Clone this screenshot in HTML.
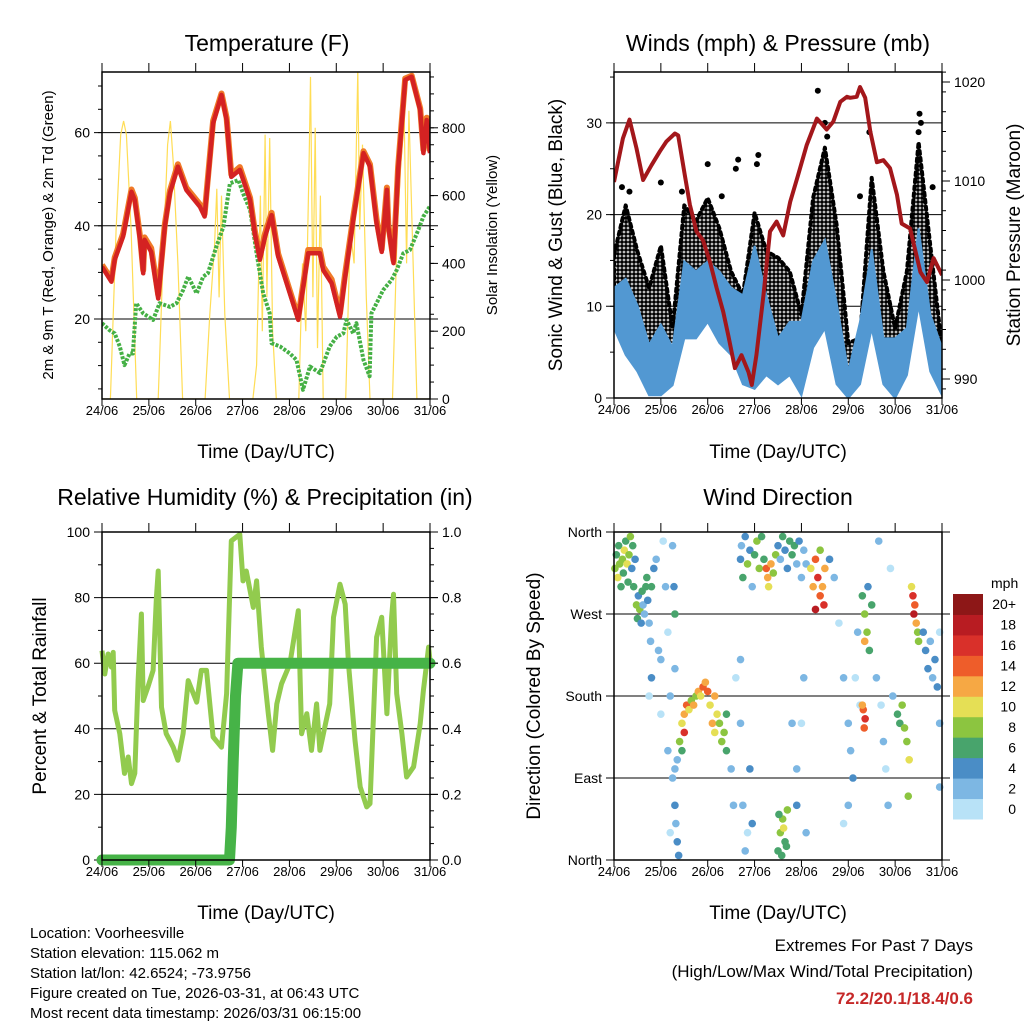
<!DOCTYPE html>
<html><head><meta charset="utf-8"><style>
html,body{margin:0;padding:0;background:#fff;}
svg{display:block;font-family:"Liberation Sans",Arial,sans-serif;}
</style></head><body>
<svg id="chart" width="1024" height="1024" viewBox="0 0 1024 1024" xmlns="http://www.w3.org/2000/svg">
<defs>
<pattern id="gustPat" width="4" height="4" patternUnits="userSpaceOnUse"><circle cx="2" cy="2" r="1.9" fill="#000"/></pattern>
</defs>
<rect width="1024" height="1024" fill="#fff"/>
<g id="g1"></g>
<g id="g2"></g>
<g id="g3"></g>
<g id="g4"></g>
<text x="267" y="51" font-size="23" text-anchor="middle">Temperature (F)</text>
<text x="778" y="51" font-size="23" text-anchor="middle">Winds (mph) &amp; Pressure (mb)</text>
<text x="265" y="505" font-size="23" text-anchor="middle">Relative Humidity (%) &amp; Precipitation (in)</text>
<text x="778" y="505" font-size="23" text-anchor="middle">Wind Direction</text>
<text x="266" y="458" font-size="19" text-anchor="middle">Time (Day/UTC)</text>
<text x="778" y="458" font-size="19" text-anchor="middle">Time (Day/UTC)</text>
<text x="266" y="919" font-size="19" text-anchor="middle">Time (Day/UTC)</text>
<text x="778" y="919" font-size="19" text-anchor="middle">Time (Day/UTC)</text>
<text transform="translate(53,235) rotate(-90)" font-size="15" text-anchor="middle">2m &amp; 9m T (Red, Orange) &amp; 2m Td (Green)</text>
<text transform="translate(497,235) rotate(-90)" font-size="15" text-anchor="middle">Solar Insolation (Yellow)</text>
<text transform="translate(562,235) rotate(-90)" font-size="19" text-anchor="middle">Sonic Wind &amp; Gust (Blue, Black)</text>
<text transform="translate(1020,235) rotate(-90)" font-size="19" text-anchor="middle">Station Pressure (Maroon)</text>
<text transform="translate(46,696) rotate(-90)" font-size="19" text-anchor="middle">Percent &amp; Total Rainfall</text>
<text transform="translate(540,696) rotate(-90)" font-size="19" text-anchor="middle">Direction (Colored By Speed)</text>
<g font-size="15">
<text x="30" y="938">Location: Voorheesville</text>
<text x="30" y="958">Station elevation: 115.062 m</text>
<text x="30" y="978">Station lat/lon: 42.6524; -73.9756</text>
<text x="30" y="998">Figure created on Tue, 2026-03-31, at 06:43 UTC</text>
<text x="30" y="1018">Most recent data timestamp: 2026/03/31 06:15:00</text>
</g>
<text x="973" y="951" font-size="17" text-anchor="end">Extremes For Past 7 Days</text>
<text x="973" y="977" font-size="17" text-anchor="end">(High/Low/Max Wind/Total Precipitation)</text>
<text x="973" y="1004" font-size="17" font-weight="bold" fill="#c62828" text-anchor="end">72.2/20.1/18.4/0.6</text>
</svg>
<script>
// ---------- DATA ----------
const dayLabels = ["24/06","25/06","26/06","27/06","28/06","29/06","30/06","31/06"];
const tempDays = [0,.20,.27,.45,.63,.70,.81,.88,.91,1.05,1.20,1.34,1.45,1.62,1.80,2.09,2.19,2.37,2.55,2.66,2.76,2.94,3.16,3.26,3.37,3.48,3.62,3.76,4.01,4.19,4.40,4.65,4.72,4.90,5.08,5.19,5.36,5.58,5.72,5.86,5.97,6.08,6.11,6.22,6.32,6.47,6.61,6.79,6.86,6.93,7.0];
const temp2m = [31.2,28.0,32.7,37.7,47.3,45.5,37.0,29.8,37.0,34.4,24.4,39.8,47.0,52.7,47.7,44.1,42.0,62.0,68.1,62.7,50.5,52.0,45.5,38.4,32.7,37.7,42.3,33.4,25.5,19.8,34.1,34.1,30.5,27.7,20.5,29.1,41.2,55.6,52.7,40.5,34.4,47.7,39.8,32.0,52.0,71.3,72.0,64.8,55.6,62.7,55.6];
const temp9m = [31.6,28.5,33.2,38.3,47.8,46.0,37.8,30.5,37.5,35.2,25.2,40.3,47.5,53.2,48.2,44.6,42.5,62.5,68.4,63.2,51.0,52.6,46.0,38.9,33.5,38.4,42.8,34.0,26.0,20.3,34.8,34.8,31.2,28.5,21.2,29.8,41.8,56.0,53.2,41.3,35.0,48.2,40.3,32.6,52.6,71.6,72.2,65.2,56.3,63.2,56.0];
const dewDays = [0,.16,.27,.38,.48,.59,.66,.73,.88,1.09,1.23,1.45,1.59,1.73,1.84,2.02,2.16,2.26,2.44,2.59,2.73,2.91,3.01,3.16,3.30,3.44,3.58,3.62,3.80,4.01,4.15,4.29,4.44,4.65,4.86,5.01,5.15,5.22,5.36,5.43,5.58,5.71,5.75,5.86,6.0,6.18,6.29,6.43,6.57,6.75,6.86,7.0];
const dewPoint = [19.1,17.6,16.9,14.1,10.1,12.6,12.6,23.4,21.2,19.8,23.4,22.6,23.4,26.2,29.1,25.5,29.1,29.8,35.5,39.8,49.1,49.8,47.0,43.4,34.1,25.5,21.2,14.8,14.1,12.6,11.2,4.8,9.8,8.4,14.1,16.2,16.9,19.8,16.9,19.1,11.2,7.7,21.2,23.4,26.2,28.4,30.5,34.1,34.8,39.1,42.0,44.2];
const solarDays = [0,.18,.30,.40,.46,.52,.62,.74,1.20,1.30,1.40,1.46,1.52,1.62,1.72,2.20,2.30,2.40,2.45,2.50,2.55,2.62,2.72,3.22,3.30,3.38,3.42,3.48,3.52,3.58,3.64,3.72,4.20,4.28,4.35,4.42,4.45,4.50,4.55,4.60,4.66,4.72,5.20,5.30,5.38,5.46,5.50,5.56,5.64,5.72,6.20,6.30,6.38,6.45,6.50,6.55,6.62,6.72,7.0];
const solarVals = [0,0,500,780,820,780,500,0,0,400,750,820,700,400,0,0,250,450,620,300,600,250,0,0,100,600,200,780,300,770,200,0,0,400,200,700,950,300,800,150,600,0,0,500,400,970,500,750,300,0,0,500,700,830,400,850,500,0,0];
const presDays = [0,.19,.33,.48,.62,.80,.98,1.12,1.30,1.37,1.51,1.62,1.76,1.90,2.05,2.19,2.33,2.44,2.58,2.72,2.87,2.94,3.04,3.19,3.33,3.47,3.61,3.76,3.93,4.11,4.33,4.54,4.68,4.83,4.97,5.04,5.18,5.25,5.36,5.47,5.61,5.75,5.89,6.04,6.14,6.32,6.54,6.68,6.82,7.0];
const pressure = [1009.9,1014.3,1016.2,1013.3,1010.1,1011.6,1013.0,1014.0,1014.8,1014.6,1010.6,1007.6,1004.9,1004.0,1001.8,999.2,996.8,994.4,991.1,992.4,990.7,989.4,992.4,998.5,1004.9,1005.9,1004.5,1007.9,1010.6,1013.6,1016.3,1015.2,1016.0,1018.0,1018.5,1018.4,1018.5,1019.5,1018.4,1015.0,1011.9,1012.1,1011.3,1008.6,1005.7,1005.2,1000.8,999.8,1002.2,1000.5];
const windDays = [0,.25,.5,.75,1,1.25,1.5,1.75,2,2.25,2.5,2.75,3,3.25,3.5,3.75,4,4.25,4.5,4.75,5,5.25,5.5,5.75,6,6.25,6.5,6.75,7];
const windHigh = [12,13,10.1,5.8,8,5.5,14.9,13.8,14.9,13.8,12,11.2,16.6,11.2,6.5,8.3,8.3,14.9,17.2,10.4,2.9,8.3,16.2,6.5,6.5,7.6,18.5,9.1,5.5];
const windLow = [7.6,4.7,2.9,0.3,0.3,1.4,6.5,6.5,8.3,6,4.7,1.5,1,2.5,1.5,2.5,0.3,5.5,7.6,1.5,0,1.5,7.6,1.5,0,2.5,10.1,2.9,0.3];
const gustHigh = [15.6,21,16,12,16.6,7.6,21,19.3,21.8,18.5,13.8,11.2,20.2,16,15.3,13.8,9.1,21.8,27.3,18.9,6,6.5,24,13.8,7.6,13.8,27.9,16.6,5.5];
const gustOutDays = [.17,.33,1.0,1.45,2.0,2.3,2.6,2.65,3.08,3.05,4.35,4.5,4.55,5.25,5.45,6.5,6.52,6.55,6.8];
const gustOutVals = [23,22.5,23.5,22.5,25.5,22,25,26,26.5,25.5,33.5,30,28.5,22,29,29,31,30,23];
const rhDays = [0,.06,.13,.2,.24,.27,.38,.48,.56,.63,.7,.77,.84,.88,.98,1.09,1.16,1.2,1.27,1.37,1.52,1.62,1.73,1.84,2.02,2.12,2.23,2.37,2.55,2.66,2.76,2.94,3.01,3.08,3.23,3.3,3.4,3.55,3.64,3.73,3.83,4.01,4.19,4.26,4.37,4.47,4.58,4.65,4.86,4.94,5.08,5.19,5.26,5.4,5.51,5.65,5.72,5.86,5.97,6.08,6.18,6.22,6.29,6.4,6.5,6.65,6.79,6.86,6.97,7.0];
const rhVals = [63.8,56.7,62.8,58.8,63.3,45.6,38.5,26.4,31.4,23.3,26.4,54.7,75,48.6,52.7,57.8,80,88.1,46.6,38.5,34.4,30.4,38.5,54.7,48.1,57.8,57.8,37.5,34.4,50.7,97.3,99.3,85.1,88.1,77,85.1,64.9,44.6,33.4,47.6,53.7,59.8,76,38.5,44.6,33.4,47.6,33.4,47.6,74,84.1,78,59.8,36.5,22.3,16.2,17.2,67.9,74,44.6,74,81,50.7,38.5,25.3,28.4,41.6,51.7,64.9,60.8];
const precipDays = [0,2.72,2.76,2.80,2.85,2.90,7.0];
const precipVals = [0,0,0.1,0.3,0.5,0.6,0.6];
const dirDays = [0.02,0.05,0.08,0.1,0.12,0.15,0.18,0.2,0.22,0.25,0.28,0.3,0.32,0.35,0.38,0.4,0.42,0.45,
0.48,0.5,0.52,0.55,0.58,0.6,0.62,0.65,0.68,0.7,0.72,0.75,0.78,0.8,0.85,0.9,0.95,1.0,0.8,0.75,
1.05,1.1,1.15,1.2,1.25,1.3,1.32,1.35,1.38,1.2,1.15,1.0,1.25,1.28,1.3,1.3,
1.4,1.45,1.5,1.55,1.5,1.6,1.65,1.7,1.75,1.8,1.85,1.9,1.95,2.0,1.45,1.35,1.3,
2.05,2.1,2.15,2.2,2.25,2.3,2.35,2.4,2.4,2.15,
2.5,2.55,2.6,2.7,2.75,2.8,2.85,2.9,2.95,2.7,
2.7,2.72,2.75,2.8,2.85,2.9,2.95,3.0,3.05,3.1,3.15,3.2,
3.25,3.28,3.3,3.35,3.4,3.45,
3.5,3.55,3.6,3.65,3.7,3.75,3.8,3.85,3.9,3.95,4.0,4.05,4.1,
3.5,3.55,3.6,3.65,3.7,3.58,3.62,3.52,3.68,
3.8,3.9,3.9,4.0,4.05,4.1,
4.2,4.25,4.3,4.35,4.4,4.45,4.5,4.48,4.4,4.3,
4.6,4.7,4.8,4.9,5.0,5.05,5.1,5.15,5.2,5.25,5.0,4.9,
5.3,5.35,5.4,5.45,5.5,5.35,5.42,
5.32,5.36,5.34,5.3,
5.6,5.7,5.75,5.8,5.85,5.9,5.65,5.95,
6.05,6.1,6.15,6.2,6.25,6.3,6.28,
6.38,6.4,6.42,6.45,6.48,6.5,6.35,
6.6,6.65,6.7,6.75,6.8,6.85,6.9,6.95,6.95,6.95];
const dirDegs = [320,335,310,345,325,300,330,315,340,350,325,305,335,355,320,345,300,330,
280,265,290,275,260,295,280,270,300,310,285,260,240,300,320,330,230,220,200,180,
350,300,250,180,90,60,40,20,5,30,120,160,345,300,270,210,
130,150,160,170,140,165,175,170,180,185,180,190,195,185,120,110,100,
170,150,140,160,150,130,140,120,160,180,
100,60,200,220,60,10,30,100,40,150,
330,345,310,355,325,340,300,335,350,320,355,330,
320,310,300,325,315,335,
345,330,355,340,320,350,335,345,325,350,310,340,325,
10,30,45,20,55,5,35,50,15,
150,100,60,150,200,30,
320,300,330,310,290,300,320,280,340,275,
330,310,260,200,150,120,90,200,250,170,60,40,
290,270,250,230,280,240,300,
165,155,145,170,
200,170,130,100,60,320,350,180,
160,150,170,145,130,110,70,
290,270,280,260,250,240,300,
250,230,210,240,200,220,190,250,80,150];
const dirSpeeds = [8,6,10,7,9,6,8,7,11,7,10,6,9,8,5,6,7,5,
8,7,5,9,4,6,3,2,6,7,5,3,2,6,4,3,2,3,4,1,
1,2,1,2,3,4,3,4,5,1,2,1,3,4,6,2,
8,10,12,14,16,10,9,12,8,12,10,14,12,14,6,3,2,
11,12,10,11,9,8,8,6,7,13,
3,2,1,2,3,2,1,4,4,3,
5,3,6,4,8,5,3,6,8,9,6,7,
14,13,10,12,9,8,
4,3,6,5,4,7,6,7,3,4,2,3,2,
7,8,9,7,8,6,10,7,6,
2,3,4,1,2,2,
10,12,14,16,14,13,12,16,9,18,
4,2,1,2,3,2,4,1,2,1,2,1,
7,9,8,7,6,12,5,
15,17,14,12,
3,1,2,1,2,1,3,2,
6,7,8,8,9,10,8,
16,18,14,12,9,8,10,
4,5,4,3,3,5,4,1,3,2];
const cbLabels = ["0","2","4","6","8","10","12","14","16","18","20+"];
const cbColors = ["#b8e2f7","#7db7e3","#4a8dc6","#48a46c","#8cc540","#e5df55","#f6a844","#ee5d2a","#d9302a","#b81c22","#8d1717"];

// ---------- HELPERS ----------
const NS = "http://www.w3.org/2000/svg";
function mk(parent, tag, attrs, text) {
  const el = document.createElementNS(NS, tag);
  for (const k in attrs) el.setAttribute(k, attrs[k]);
  if (text !== undefined) el.textContent = text;
  parent.appendChild(el);
  return el;
}
function pathFrom(xs, ys, fx, fy) {
  return xs.map((d, i) => (i ? "L" : "M") + fx(d).toFixed(1) + "," + fy(ys[i]).toFixed(1)).join("");
}
const DAYPX = 328 / 7;

function frame(g, L, T, R, B, prefix) {
  for (let i = 0; i <= 7; i++) {
    const x = L + i * DAYPX;
    const t = mk(g, "line", {x1: x, y1: T - 9, x2: x, y2: T, stroke: "#000", "stroke-width": 1});
    
    
    const tb = mk(g, "line", {x1: x, y1: B, x2: x, y2: B + 7, stroke: "#000", "stroke-width": 1});
    
    
    const lab = mk(g, "text", {x: x, y: B + 16, "font-size": 13, "text-anchor": "middle"}, dayLabels[i]);
    
    
  }
  const box = mk(g, "rect", {x: L, y: T, width: R - L, height: B - T, fill: "none", stroke: "#000", "stroke-width": 1.5});
  
  
}
function leftAxis(g, L, R, ticks, fy, minors, labels, gridExtR) {
  ticks.forEach((v, i) => {
    const y = fy(v);
    const gl = mk(g, "line", {x1: L - 8, y1: y, x2: gridExtR || R, y2: y, stroke: "#000", "stroke-width": 1});
    
    
    const lab = mk(g, "text", {x: L - 12, y: y + 5, "font-size": 14, "text-anchor": "end"}, labels ? labels[i] : String(v));
    
    
  });
  minors.forEach(v => {
    const y = fy(v);
    const m = mk(g, "line", {x1: L - 4, y1: y, x2: L, y2: y, stroke: "#000", "stroke-width": 1});
    
    
  });
}
function rightAxis(g, R, ticks, fy, minors, labels) {
  ticks.forEach((v, i) => {
    const y = fy(v);
    const t = mk(g, "line", {x1: R, y1: y, x2: R + 8, y2: y, stroke: "#000", "stroke-width": 1});
    
    
    const lab = mk(g, "text", {x: R + 12, y: y + 5, "font-size": 14}, labels[i]);
    
    
  });
  minors.forEach(v => {
    const y = fy(v);
    const m = mk(g, "line", {x1: R, y1: y, x2: R + 4, y2: y, stroke: "#000", "stroke-width": 1});
    
    
  });
}
function range(a, b, s) { const r = []; for (let v = a; v <= b + 1e-9; v += s) r.push(+v.toFixed(3)); return r; }

// ---------- PANEL 1: Temperature ----------
(function () {
  const g = document.getElementById("g1");
  const L = 102, R = 430, T = 72, B = 399;
  const fx = d => L + d * DAYPX;
  const fy = v => 319 - (v - 20) * 4.66;
  const fs = v => 399 - v * 0.339;
  const cp = mk(g, "clipPath", {id: "c1"}); mk(cp, "rect", {x: L, y: T, width: R - L, height: B - T});
  leftAxis(g, L, R, [20, 40, 60], fy, range(5, 70, 5), null, R + 8);
  const sol = mk(g, "path", {d: pathFrom(solarDays, solarVals, fx, fs), fill: "none", stroke: "#ffdd55", "stroke-width": 1.2, "clip-path": "url(#c1)"});
  
  
  const dew = mk(g, "path", {d: pathFrom(dewDays, dewPoint, fx, fy), fill: "none", stroke: "#45b045", "stroke-width": 4, "stroke-dasharray": "3,1.5", "stroke-linejoin": "round", "clip-path": "url(#c1)"});
  
  
  const t9 = mk(g, "path", {d: pathFrom(tempDays, temp9m, fx, fy), fill: "none", stroke: "#f07a28", "stroke-width": 6, "stroke-linejoin": "round", "clip-path": "url(#c1)"});
  
  
  const t2 = mk(g, "path", {d: pathFrom(tempDays, temp2m, fx, fy), fill: "none", stroke: "#d42222", "stroke-width": 4.5, "stroke-linejoin": "round", "clip-path": "url(#c1)"});
  
  
  rightAxis(g, R, [0, 200, 400, 600, 800], fs, range(50, 950, 50), ["0", "200", "400", "600", "800"]);
  frame(g, L, T, R, B, "temperature");
})();

// ---------- PANEL 2: Winds ----------
(function () {
  const g = document.getElementById("g2");
  const L = 614, R = 942, T = 72, B = 398;
  const fx = d => L + d * DAYPX;
  const fy = v => 398 - v * 9.17;
  const fp = p => 181 - (p - 1010) * 9.9;
  const cp = mk(g, "clipPath", {id: "c2"}); mk(cp, "rect", {x: L, y: T, width: R - L, height: B - T});
  leftAxis(g, L, R, [0, 10, 20, 30], fy, range(5, 35, 5), null, R);
  const gustPoly = windDays.map((d, i) => fx(d).toFixed(1) + "," + fy(gustHigh[i]).toFixed(1)).concat(windDays.slice().reverse().map((d, j) => { const i = windDays.length - 1 - j; return fx(d).toFixed(1) + "," + fy(windLow[i] + 2).toFixed(1); })).join(" ");
  const gp = mk(g, "polygon", {points: gustPoly, fill: "url(#gustPat)", stroke: "#000", "stroke-width": 4, "stroke-dasharray": "3,4", "stroke-linecap": "round", "stroke-linejoin": "round", "clip-path": "url(#c2)"});
  
  
  gustOutDays.forEach((d, i) => {
    const c = mk(g, "circle", {cx: fx(d), cy: fy(gustOutVals[i]), r: 3, fill: "#000"});
    
    
  });
  const windPoly = windDays.map((d, i) => fx(d).toFixed(1) + "," + fy(windHigh[i]).toFixed(1)).concat(windDays.slice().reverse().map((d, j) => { const i = windDays.length - 1 - j; return fx(d).toFixed(1) + "," + fy(windLow[i]).toFixed(1); })).join(" ");
  const wp = mk(g, "polygon", {points: windPoly, fill: "#5298d2", stroke: "#5298d2", "stroke-width": 2, "clip-path": "url(#c2)"});
  
  
  const pr = mk(g, "path", {d: pathFrom(presDays, pressure, fx, fp), fill: "none", stroke: "#a3171b", "stroke-width": 4, "stroke-linejoin": "round", "clip-path": "url(#c2)"});
  
  
  rightAxis(g, R, [990, 1000, 1010, 1020], fp, range(989, 1021, 2), ["990", "1000", "1010", "1020"]);
  frame(g, L, T, R, B, "winds");
})();

// ---------- PANEL 3: Humidity ----------
(function () {
  const g = document.getElementById("g3");
  const L = 102, R = 430, T = 532, B = 860;
  const fx = d => L + d * DAYPX;
  const fy = v => 860 - v * 3.28;
  const fpr = p => 860 - p * 328;
  const cp = mk(g, "clipPath", {id: "c3"}); mk(cp, "rect", {x: L - 6, y: T - 2, width: R - L + 12, height: B - T + 8});
  leftAxis(g, L, R, [0, 20, 40, 60, 80, 100], fy, range(10, 90, 20), null, R + 8);
  const rh = mk(g, "path", {d: pathFrom(rhDays, rhVals, fx, fy), fill: "none", stroke: "#92cb4e", "stroke-width": 5, "stroke-linejoin": "round", "clip-path": "url(#c3)"});
  
  
  const pc = mk(g, "path", {d: pathFrom(precipDays, precipVals, fx, fpr), fill: "none", stroke: "#46b347", "stroke-width": 11, "stroke-linecap": "round", "stroke-linejoin": "round", "clip-path": "url(#c3)"});
  
  
  rightAxis(g, R, [0, .2, .4, .6, .8, 1], fpr, range(0.1, 0.9, 0.2).concat(range(0.05, 0.95, 0.1)), ["0.0", "0.2", "0.4", "0.6", "0.8", "1.0"]);
  frame(g, L, T, R, B, "humidity");
})();

// ---------- PANEL 4: Wind Direction ----------
(function () {
  const g = document.getElementById("g4");
  const L = 614, R = 942, T = 532, B = 860;
  const fx = d => L + d * DAYPX;
  const fy = v => 860 - v * 0.9111;
  leftAxis(g, L, R, [0, 90, 180, 270, 360], fy, [], ["North", "East", "South", "West", "North"], R + 8);
  const colorFor = s => cbColors[Math.min(10, Math.floor(s / 2))];
  dirDays.forEach((d, i) => {
    const c = mk(g, "circle", {cx: fx(d), cy: fy(dirDegs[i]), r: 3.8, fill: colorFor(dirSpeeds[i])});
    
    
  });
  frame(g, L, T, R, B, "wind-direction");
  const cb = mk(g, "g", {});
  
  
  const cbTop = 594, cbH = 225 / 11;
  const unit = mk(cb, "text", {x: 991, y: 588, "font-size": 14}, "mph");
  
  
  cbColors.forEach((col, i) => {
    const y = cbTop + (10 - i) * cbH;
    const r = mk(cb, "rect", {x: 953, y: y, width: 30, height: cbH + 0.5, fill: col});
    
    
    const t = mk(cb, "text", {x: 1016, y: y + cbH / 2 + 5, "font-size": 14, "text-anchor": "end"}, cbLabels[i]);
    
    
  });
})();
</script>
</body></html>
